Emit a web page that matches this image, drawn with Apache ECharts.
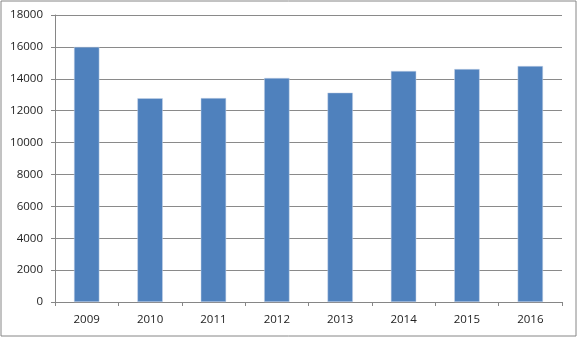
<!DOCTYPE html>
<html>
<head>
<meta charset="utf-8">
<script src="https://cdn.jsdelivr.net/npm/echarts@6/dist/echarts.min.js"></script>
<style>
  html, body { margin: 0; padding: 0; background: #fff; }
  #chart { width: 578px; height: 338px; }
</style>
</head>
<body>
<div id="chart"></div>
<script>
const years = ['2009', '2010', '2011', '2012', '2013', '2014', '2015', '2016'];
const values = [16000, 12780, 12790, 14050, 13130, 14490, 14610, 14800];

const chart = echarts.init(document.getElementById('chart'));
const labelFont = { fontFamily: 'Open Sans', fontSize: 11.5, color: '#222' };

chart.setOption({
  animation: false,
  graphic: [{
    type: 'rect',
    shape: { x: 1, y: 1, width: 575, height: 335 },
    style: { fill: 'none', stroke: '#868686', lineWidth: 1 },
    silent: true
  }],
  grid: { left: 55, right: 16, top: 15, bottom: 36 },
  xAxis: {
    type: 'category',
    data: years,
    axisLine: { lineStyle: { color: '#868686' } },
    axisTick: { show: true, length: 4, lineStyle: { color: '#868686' } },
    axisLabel: Object.assign({ margin: 12 }, labelFont)
  },
  yAxis: {
    type: 'value',
    min: 0,
    max: 18000,
    interval: 2000,
    axisLine: { show: true, lineStyle: { color: '#868686' } },
    axisTick: { show: true, length: 4, lineStyle: { color: '#868686' } },
    axisLabel: Object.assign({ margin: 12, formatter: v => String(v) }, labelFont),
    splitLine: { lineStyle: { color: '#8a8a8a', width: 1 } }
  },
  series: [{
    type: 'bar',
    data: values,
    barWidth: '40%',
    itemStyle: { color: '#4F81BD', borderColor: '#c6d4e8', borderWidth: 0.5 }
  }]
});
</script>
</body>
</html>
